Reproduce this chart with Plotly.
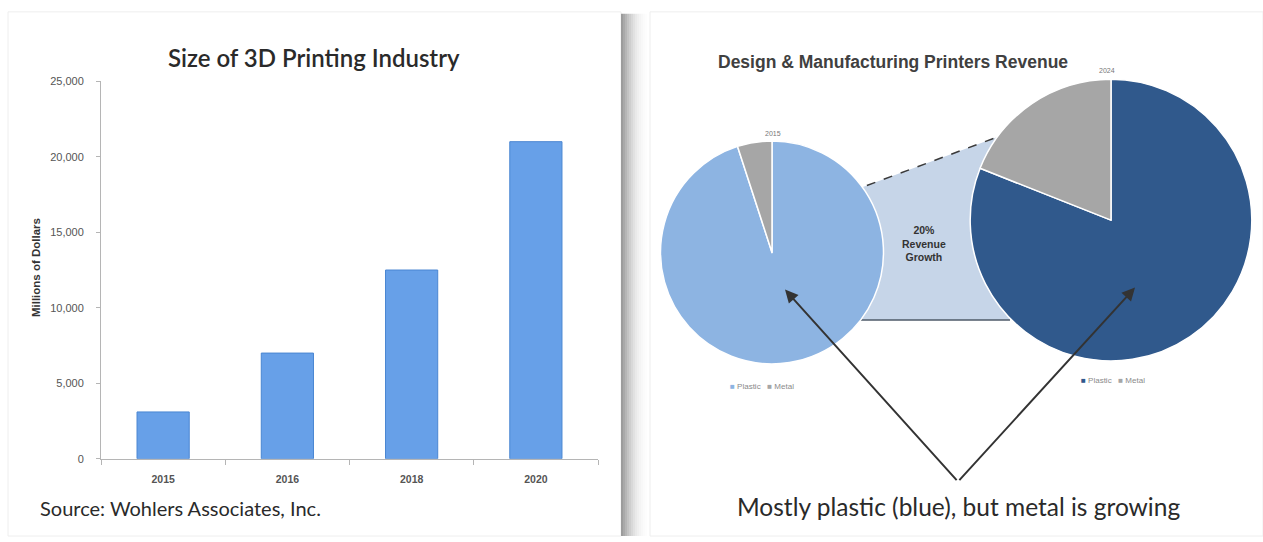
import plotly.graph_objects as go

W, H = 1263, 542

# ---- data ----
years = ["2015", "2016", "2018", "2020"]
industry_size = [3100, 7000, 12500, 21000]   # millions of dollars
y_ticks = [0, 5000, 10000, 15000, 20000, 25000]

pie_labels = ["Plastic", "Metal"]
share_2015 = [95, 5]
share_2024 = [81, 19]


def px(x):
    return x / W


def py(y):
    return 1 - y / H


fig = go.Figure()

fig.add_trace(go.Bar(
    x=years, y=industry_size,
    marker=dict(color="#67a0e8", line=dict(color="#4a86d2", width=1)),
    width=0.42, showlegend=False, hoverinfo="x+y",
))

fig.add_trace(go.Pie(
    labels=pie_labels, values=share_2015, sort=False, direction="clockwise",
    rotation=0, textinfo="none", showlegend=False,
    marker=dict(colors=["#8db4e2", "#a6a6a6"], line=dict(color="#ffffff", width=1.5)),
    domain=dict(x=[px(658), px(886)], y=[py(366), py(138)]),
))
fig.add_trace(go.Pie(
    labels=pie_labels, values=share_2024, sort=False, direction="clockwise",
    rotation=0, textinfo="none", showlegend=False,
    marker=dict(colors=["#30598c", "#a6a6a6"], line=dict(color="#ffffff", width=1.5)),
    domain=dict(x=[px(967), px(1255)], y=[py(363), py(75)]),
))

fig.update_xaxes(
    domain=[px(101), px(598)], showgrid=False, showline=True, linecolor="#b5b5b5",
    ticks="outside", tickson="boundaries", ticklen=5, tickcolor="#b5b5b5",
    tickfont=dict(family="Liberation Sans", size=10.5, color="#555555", weight="bold"),
    ticklabelstandoff=11,
)
fig.update_yaxes(
    domain=[py(463), py(77)], range=[0, 25000], tickvals=y_ticks, tickformat=",",
    showgrid=False, showline=True, linecolor="#b5b5b5", zeroline=False,
    ticks="outside", ticklen=4, tickcolor="#b5b5b5",
    tickfont=dict(family="Liberation Sans", size=11, color="#555555"),
    ticklabelstandoff=10,
)

shapes = []
# card edges
shapes.append(dict(type="rect", xref="paper", yref="paper", x0=px(8), x1=px(621), y0=py(542), y1=py(6),
                   line=dict(color="#eeeeee", width=1), fillcolor="rgba(0,0,0,0)", layer="below"))
shapes.append(dict(type="rect", xref="paper", yref="paper", x0=px(650), x1=px(1263), y0=py(542), y1=py(6),
                   line=dict(color="#eeeeee", width=1), fillcolor="rgba(0,0,0,0)", layer="below"))
# shadow gradient
shade = ["#9c9c9c", "#a9a9a9", "#b6b6b6", "#c3c3c3", "#cecece", "#d8d8d8", "#e1e1e1",
         "#e9e9e9", "#efefef", "#f4f4f4", "#f8f8f8", "#fbfbfb", "#fdfdfd"]
for i, c in enumerate(shade):
    shapes.append(dict(type="rect", xref="paper", yref="paper", x0=px(621 + 2 * i), x1=px(623 + 2 * i),
                       y0=py(542), y1=py(8), line=dict(width=0), fillcolor=c, layer="below"))
# growth trapezoid between pies
shapes.append(dict(type="path", xref="paper", yref="paper",
                   path=f"M {px(850)},{py(190)} L {px(1000)},{py(133)} L {px(1010)},{py(321)} L {px(850)},{py(321)} Z",
                   fillcolor="#c6d5e8", line=dict(width=0), layer="below"))
shapes.append(dict(type="line", xref="paper", yref="paper", x0=px(850), y0=py(190), x1=px(1000), y1=py(133),
                   line=dict(color="#3a3a3a", width=1.5, dash="dash"), layer="below"))
shapes.append(dict(type="line", xref="paper", yref="paper", x0=px(850), y0=py(321), x1=px(1010), y1=py(321),
                   line=dict(color="#4e5a68", width=1.5), layer="below"))


def note(text, x, y, size, color, family="Liberation Sans", weight="normal", xanchor="center", **kw):
    return dict(text=text, x=px(x), y=py(y), xref="paper", yref="paper", xanchor=xanchor, yanchor="middle",
                showarrow=False, font=dict(family=family, size=size, color=color, weight=weight), **kw)


annotations = [
    note("Size of 3D Printing Industry", 314, 53, 24, "#2a2a2a", family="Lato", weight=600),
    note("Millions of Dollars", 36, 268, 11.5, "#333333", weight="bold", textangle=-90),
    note("Source: Wohlers Associates, Inc.", 38, 513, 20, "#2a2a2a", family="Lato", xanchor="left"),
    note("Design &amp; Manufacturing Printers Revenue", 716, 57, 17.5, "#404040", weight="bold", xanchor="left"),
    note("2015", 773, 130, 7, "#777777"),
    note("2024", 1107, 66, 7, "#777777"),
    note("20%<br>Revenue<br>Growth", 924, 243, 10.5, "#333333", weight="bold"),
    note("<span style='color:#8db4e2'>■</span> Plastic   <span style='color:#a6a6a6'>■</span> Metal",
         762, 389, 8, "#8a8a8a"),
    note("<span style='color:#30598c'>■</span> Plastic   <span style='color:#a6a6a6'>■</span> Metal",
         1113, 383, 8, "#8a8a8a"),
    dict(text="", x=px(785), y=py(290), xref="paper", yref="paper", ax=958 - 785, ay=482 - 290,
         showarrow=True, arrowhead=2, arrowsize=1.3, arrowwidth=2, arrowcolor="#333333"),
    dict(text="", x=px(1135), y=py(288), xref="paper", yref="paper", ax=958 - 1135, ay=482 - 288,
         showarrow=True, arrowhead=2, arrowsize=1.3, arrowwidth=2, arrowcolor="#333333"),
    note("Mostly plastic (blue), but metal is growing", 958, 512, 24.5, "#2a2a2a", family="Lato"),
]

fig.update_layout(
    width=W, height=H, margin=dict(l=0, r=0, t=0, b=0),
    paper_bgcolor="#ffffff", plot_bgcolor="rgba(0,0,0,0)",
    bargap=0.58, shapes=shapes, annotations=annotations, showlegend=False,
)

fig.write_html("out.html", config={"displayModeBar": False},
               post_script="document.body.style.margin='0';")
